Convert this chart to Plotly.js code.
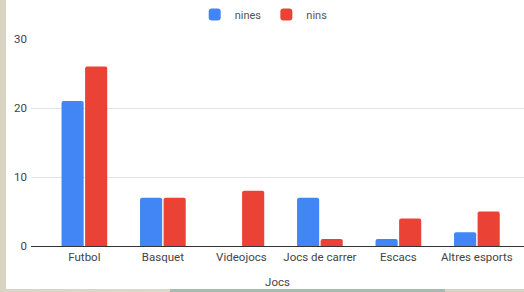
<!DOCTYPE html>
<html><head><meta charset="utf-8">
<script src="https://cdn.plot.ly/plotly-3.0.1.min.js"></script>
<style>
html,body{margin:0;padding:0;width:524px;height:292px;overflow:hidden;
background:linear-gradient(to right,#d8d5c6 0px,#dcd9cb 170px,#a8bbb0 170px,#a8bbb0 445px,#d6d3c5 445px);}
#bgl{position:absolute;left:0;top:0;width:6px;height:292px;background:#d7d4c4;}
#chart{position:absolute;left:6px;top:0;width:518px;height:289px;background:#fff;}
</style></head><body>
<div id="bgl"></div>
<div id="chart"></div>
<script>
const categories = ["Futbol","Basquet","Videojocs","Jocs de carrer","Escacs","Altres esports"];
const nines = [21,7,0,7,1,2];
const nins = [26,7,8,1,4,5];
const yTicks = [0,10,20,30];

const font = {family:"Roboto, Arial, sans-serif", color:"#444", size:11};
const data = [
  {type:"bar", name:"nines", x:categories, y:nines, marker:{color:"#4285F4", cornerradius:2}},
  {type:"bar", name:"nins", x:categories, y:nins, marker:{color:"#EA4335", cornerradius:2}}
];
const layout = {
  width:518, height:289,
  margin:{l:25, r:0, t:39, b:43},
  paper_bgcolor:"#fff", plot_bgcolor:"#fff",
  font:font,
  barmode:"group", bargap:0.4, bargroupgap:0.06,
  showlegend:true,
  legend:{orientation:"h", x:0.472, xanchor:"center", y:1, yref:"container", yanchor:"top",
          font:{family:font.family, size:11, color:"#555"}, itemwidth:30, tracegroupgap:0},
  xaxis:{type:"category", range:[-0.68,5.6], showgrid:false, ticks:"", ticklabelstandoff:2,
         tickfont:{size:11.5, color:"#444"},
         title:{text:"Jocs", font:{size:11.5, color:"#444"}, standoff:20}},
  yaxis:{range:[0,30], tickvals:yTicks, showgrid:true, gridcolor:"#e3e3e3", gridwidth:1,
         zeroline:true, zerolinecolor:"#333", zerolinewidth:1, ticks:"", ticklabelstandoff:3,
         tickfont:{size:11.5, color:"#444"}, fixedrange:true}
};
Plotly.newPlot("chart", data, layout, {displayModeBar:false, staticPlot:true});
</script></body></html>
